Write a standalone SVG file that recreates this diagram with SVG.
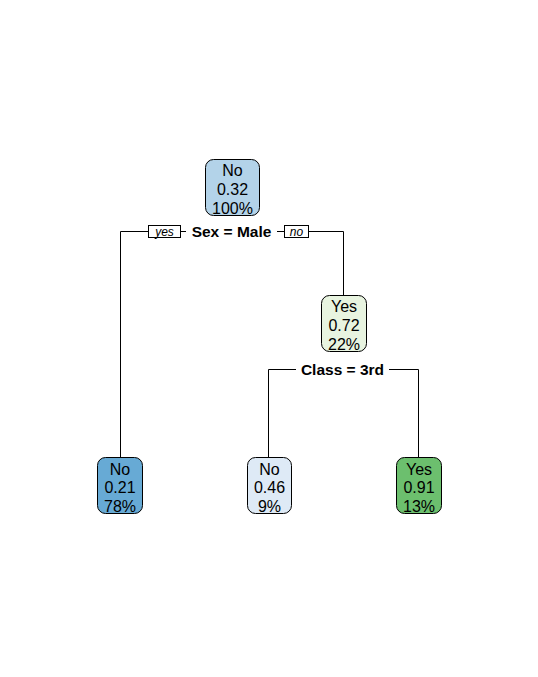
<svg xmlns="http://www.w3.org/2000/svg" width="538" height="677" viewBox="0 0 538 677">
<style>
.box{stroke:#000;stroke-width:1}
.t{font-family:"Liberation Sans",Arial,sans-serif;font-size:16px;fill:#000;text-anchor:middle}
.split{font-family:"Liberation Sans",Arial,sans-serif;font-size:15.5px;font-weight:bold;fill:#000;text-anchor:middle}
.lab{font-family:"Liberation Sans",Arial,sans-serif;font-size:12px;font-style:italic;fill:#000;text-anchor:middle}
.lbox{fill:#fff;stroke:#000;stroke-width:1}
.c{fill:none;stroke:#000;stroke-width:1}
</style>
<rect width="538" height="677" fill="#fff"/>
<g id="connectors">
<path class="c" d="M120.5 457 V231.5 H148.5 M180.5 231.5 H186 M277 231.5 H284.5 M308.5 231.5 H343.5 V295"/>
<path class="c" d="M268.5 457 V369.5 H296 M389 369.5 H418.5 V457"/>
<rect class="lbox" x="148.5" y="225.5" width="32" height="12"/>
<text class="lab" x="164.5" y="235.5">yes</text>
<rect class="lbox" x="284.5" y="225.5" width="24" height="12"/>
<text class="lab" x="296.5" y="235.5">no</text>
<text class="split" x="231.5" y="237">Sex = Male</text>
<text class="split" x="342.5" y="375">Class = 3rd</text>
</g>
<g id="n1">
<rect class="box" x="205.5" y="159.5" width="54" height="56" rx="8" fill="#B3D3E9"/>
<text class="t" x="232.5" y="176">No</text>
<text class="t" x="232.5" y="194.5">0.32</text>
<text class="t" x="232.5" y="213.5">100%</text>
</g>
<g id="n3">
<rect class="box" x="321.5" y="295.5" width="45" height="56" rx="8" fill="#E8F4E0"/>
<text class="t" x="344" y="312">Yes</text>
<text class="t" x="344" y="330.5">0.72</text>
<text class="t" x="344" y="349.5">22%</text>
</g>
<g id="n2">
<rect class="box" x="97.5" y="457.5" width="45" height="56" rx="8" fill="#67AAD5"/>
<text class="t" x="120" y="475">No</text>
<text class="t" x="120" y="493">0.21</text>
<text class="t" x="120" y="512">78%</text>
</g>
<g id="n6">
<rect class="box" x="247.5" y="457.5" width="44" height="56" rx="8" fill="#DEEAF6"/>
<text class="t" x="269.5" y="475">No</text>
<text class="t" x="269.5" y="493">0.46</text>
<text class="t" x="269.5" y="512">9%</text>
</g>
<g id="n7">
<rect class="box" x="396.5" y="457.5" width="45" height="56" rx="8" fill="#6CBF6E"/>
<text class="t" x="419" y="475">Yes</text>
<text class="t" x="419" y="493">0.91</text>
<text class="t" x="419" y="512">13%</text>
</g>
</svg>
